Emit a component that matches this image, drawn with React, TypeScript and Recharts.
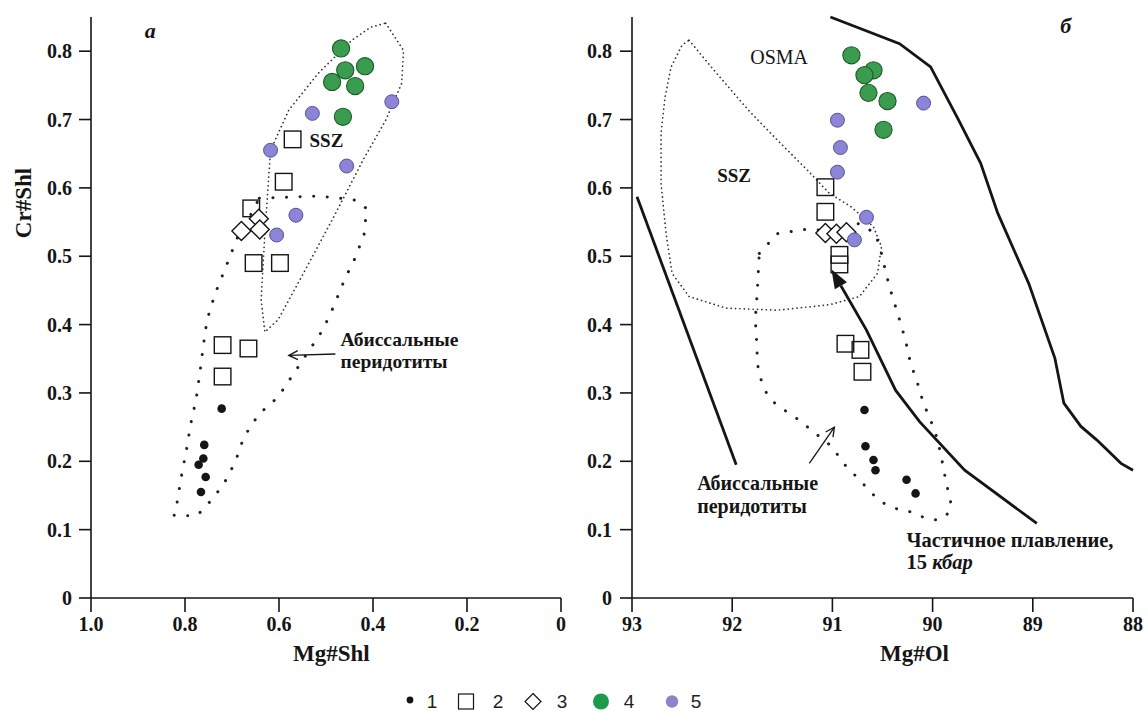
import React from 'react';
import { ScatterChart, Scatter, XAxis, YAxis, ReferenceDot } from 'recharts';

// ---------- Panel а (Cr#Shl vs Mg#Shl) ----------
const aSeries1 = [
  { x: 0.722, y: 0.277 }, { x: 0.759, y: 0.224 }, { x: 0.761, y: 0.204 },
  { x: 0.771, y: 0.195 }, { x: 0.756, y: 0.177 }, { x: 0.766, y: 0.155 },
];
const aSeries2 = [
  { x: 0.571, y: 0.671 }, { x: 0.590, y: 0.609 }, { x: 0.659, y: 0.570 },
  { x: 0.654, y: 0.490 }, { x: 0.598, y: 0.490 }, { x: 0.720, y: 0.370 },
  { x: 0.665, y: 0.365 }, { x: 0.720, y: 0.324 },
];
const aSeries3 = [
  { x: 0.643, y: 0.555 }, { x: 0.680, y: 0.537 }, { x: 0.641, y: 0.539 },
];
const aSeries4 = [
  { x: 0.468, y: 0.804 }, { x: 0.417, y: 0.778 }, { x: 0.459, y: 0.772 },
  { x: 0.487, y: 0.755 }, { x: 0.438, y: 0.749 }, { x: 0.464, y: 0.704 },
];
const aSeries5 = [
  { x: 0.529, y: 0.709 }, { x: 0.360, y: 0.726 }, { x: 0.618, y: 0.655 },
  { x: 0.456, y: 0.632 }, { x: 0.564, y: 0.560 }, { x: 0.605, y: 0.531 },
];
const aSszField = [
  { x: 0.373, y: 0.841 }, { x: 0.335, y: 0.801 }, { x: 0.339, y: 0.753 },
  { x: 0.373, y: 0.699 }, { x: 0.421, y: 0.641 }, { x: 0.484, y: 0.557 },
  { x: 0.548, y: 0.475 }, { x: 0.602, y: 0.407 }, { x: 0.630, y: 0.389 },
  { x: 0.638, y: 0.436 }, { x: 0.630, y: 0.534 }, { x: 0.618, y: 0.655 },
  { x: 0.579, y: 0.714 }, { x: 0.516, y: 0.768 }, { x: 0.445, y: 0.816 },
  { x: 0.405, y: 0.835 }, { x: 0.373, y: 0.841 },
];
const aAbyssalField = [
  { x: 0.642, y: 0.585 }, { x: 0.523, y: 0.588 }, { x: 0.484, y: 0.586 },
  { x: 0.437, y: 0.582 }, { x: 0.414, y: 0.570 }, { x: 0.418, y: 0.534 },
  { x: 0.437, y: 0.499 }, { x: 0.461, y: 0.465 }, { x: 0.484, y: 0.426 },
  { x: 0.507, y: 0.392 }, { x: 0.535, y: 0.363 }, { x: 0.571, y: 0.326 },
  { x: 0.602, y: 0.294 }, { x: 0.644, y: 0.268 }, { x: 0.675, y: 0.235 },
  { x: 0.693, y: 0.199 }, { x: 0.719, y: 0.165 }, { x: 0.754, y: 0.135 },
  { x: 0.774, y: 0.121 }, { x: 0.802, y: 0.120 }, { x: 0.823, y: 0.121 },
  { x: 0.817, y: 0.139 }, { x: 0.808, y: 0.177 }, { x: 0.797, y: 0.216 },
  { x: 0.788, y: 0.254 }, { x: 0.776, y: 0.292 }, { x: 0.768, y: 0.331 },
  { x: 0.761, y: 0.369 }, { x: 0.753, y: 0.407 }, { x: 0.736, y: 0.445 },
  { x: 0.715, y: 0.481 }, { x: 0.695, y: 0.516 }, { x: 0.682, y: 0.538 },
  { x: 0.658, y: 0.563 }, { x: 0.642, y: 0.585 },
];
const aAbyssalArrow = [{ x: 0.480, y: 0.357 }, { x: 0.579, y: 0.355 }];
const aXTicks = [1.0, 0.8, 0.6, 0.4, 0.2, 0];
const yTicks = [0, 0.1, 0.2, 0.3, 0.4, 0.5, 0.6, 0.7, 0.8];

// ---------- Panel б (Cr#Shl vs Mg#Ol) ----------
const bSeries1 = [
  { x: 90.68, y: 0.275 }, { x: 90.67, y: 0.222 }, { x: 90.59, y: 0.202 },
  { x: 90.57, y: 0.187 }, { x: 90.26, y: 0.173 }, { x: 90.17, y: 0.153 },
];
const bSeries2 = [
  { x: 91.07, y: 0.601 }, { x: 91.07, y: 0.565 }, { x: 90.93, y: 0.502 },
  { x: 90.93, y: 0.488 }, { x: 90.87, y: 0.372 }, { x: 90.72, y: 0.363 },
  { x: 90.70, y: 0.331 },
];
const bSeries3 = [
  { x: 91.07, y: 0.534 }, { x: 90.96, y: 0.533 }, { x: 90.86, y: 0.535 },
];
const bSeries4 = [
  { x: 90.81, y: 0.794 }, { x: 90.59, y: 0.772 }, { x: 90.68, y: 0.765 },
  { x: 90.64, y: 0.739 }, { x: 90.45, y: 0.727 }, { x: 90.49, y: 0.685 },
];
const bSeries5 = [
  { x: 90.09, y: 0.724 }, { x: 90.95, y: 0.699 }, { x: 90.92, y: 0.659 },
  { x: 90.95, y: 0.623 }, { x: 90.66, y: 0.557 }, { x: 90.78, y: 0.524 },
];
const bSszField = [
  { x: 92.43, y: 0.816 }, { x: 92.21, y: 0.777 }, { x: 91.84, y: 0.714 },
  { x: 91.55, y: 0.670 }, { x: 91.25, y: 0.626 }, { x: 91.03, y: 0.592 },
  { x: 90.81, y: 0.572 }, { x: 90.59, y: 0.543 }, { x: 90.51, y: 0.514 },
  { x: 90.55, y: 0.475 }, { x: 90.73, y: 0.441 }, { x: 91.03, y: 0.429 },
  { x: 91.55, y: 0.421 }, { x: 92.06, y: 0.424 }, { x: 92.43, y: 0.441 },
  { x: 92.60, y: 0.475 }, { x: 92.66, y: 0.533 }, { x: 92.71, y: 0.607 },
  { x: 92.71, y: 0.680 }, { x: 92.67, y: 0.733 }, { x: 92.61, y: 0.777 },
  { x: 92.50, y: 0.809 }, { x: 92.43, y: 0.816 },
];
const bAbyssalField = [
  { x: 91.73, y: 0.504 }, { x: 91.55, y: 0.533 }, { x: 91.29, y: 0.539 },
  { x: 91.03, y: 0.538 }, { x: 90.73, y: 0.548 }, { x: 90.57, y: 0.533 },
  { x: 90.51, y: 0.504 }, { x: 90.48, y: 0.485 }, { x: 90.43, y: 0.455 },
  { x: 90.38, y: 0.431 }, { x: 90.33, y: 0.407 }, { x: 90.27, y: 0.377 },
  { x: 90.22, y: 0.343 }, { x: 90.16, y: 0.319 }, { x: 90.11, y: 0.294 },
  { x: 90.05, y: 0.270 }, { x: 89.98, y: 0.246 }, { x: 89.92, y: 0.212 },
  { x: 89.87, y: 0.173 }, { x: 89.81, y: 0.134 }, { x: 89.87, y: 0.119 },
  { x: 89.98, y: 0.114 }, { x: 90.11, y: 0.119 }, { x: 90.24, y: 0.127 },
  { x: 90.37, y: 0.131 }, { x: 90.48, y: 0.138 }, { x: 90.59, y: 0.151 },
  { x: 90.68, y: 0.165 }, { x: 90.77, y: 0.179 }, { x: 90.86, y: 0.192 },
  { x: 90.94, y: 0.208 }, { x: 91.01, y: 0.222 }, { x: 91.12, y: 0.235 },
  { x: 91.23, y: 0.248 }, { x: 91.33, y: 0.260 }, { x: 91.43, y: 0.270 },
  { x: 91.55, y: 0.282 }, { x: 91.64, y: 0.294 }, { x: 91.70, y: 0.314 },
  { x: 91.74, y: 0.333 }, { x: 91.75, y: 0.353 }, { x: 91.76, y: 0.387 },
  { x: 91.77, y: 0.407 }, { x: 91.75, y: 0.446 }, { x: 91.74, y: 0.475 },
  { x: 91.73, y: 0.504 },
];
const bLeftCurve = [{ x: 92.95, y: 0.587 }, { x: 91.96, y: 0.195 }];
const bMeltingCurve = [
  { x: 88.96, y: 0.109 }, { x: 89.68, y: 0.187 }, { x: 90.13, y: 0.258 },
  { x: 90.37, y: 0.304 }, { x: 90.66, y: 0.392 }, { x: 91.01, y: 0.481 },
];
const bRightCurve = [
  { x: 91.02, y: 0.850 }, { x: 90.33, y: 0.811 }, { x: 90.02, y: 0.777 },
  { x: 89.74, y: 0.699 }, { x: 89.52, y: 0.636 }, { x: 89.35, y: 0.563 },
  { x: 89.04, y: 0.460 }, { x: 88.78, y: 0.351 }, { x: 88.69, y: 0.285 },
  { x: 88.52, y: 0.251 }, { x: 88.36, y: 0.231 }, { x: 88.12, y: 0.197 },
  { x: 88.00, y: 0.187 },
];
const bAbyssalArrow = [{ x: 91.23, y: 0.197 }, { x: 90.98, y: 0.250 }];
const bXTicks = [93, 92, 91, 90, 89, 88];

const legendLabels = ['1', '2', '3', '4', '5'];

// ---------- styles ----------
const SERIF = "'Liberation Serif', 'Times New Roman', serif";
const INK = '#151515';
const tickStyle = { fontSize: 20, fontWeight: 700, fill: INK, fontFamily: SERIF };
const axisLineStyle = { stroke: INK, strokeWidth: 1.6 };
const annoStyle: React.CSSProperties = { fontSize: 20, fontWeight: 700, fill: INK, fontFamily: SERIF };
const GREEN = '#3a9c4e';
const GREEN_EDGE = '#1f5a2b';
const PURPLE = '#8c84d6';
const PURPLE_EDGE = '#4d4793';

const none = () => <g />;

const dotShape = (p: any) => <circle cx={p.cx} cy={p.cy} r={4.3} fill={INK} />;
const squareShape = (p: any) => (
  <rect x={p.cx - 8.3} y={p.cy - 8.3} width={16.6} height={16.6} fill="none" stroke={INK} strokeWidth={1.4} />
);
const diamondShape = (p: any) => (
  <polygon
    points={`${p.cx},${p.cy - 9.5} ${p.cx + 9.5},${p.cy} ${p.cx},${p.cy + 9.5} ${p.cx - 9.5},${p.cy}`}
    fill="#fff" stroke={INK} strokeWidth={1.4}
  />
);
const greenShape = (p: any) => (
  <circle cx={p.cx} cy={p.cy} r={8.6} fill={GREEN} stroke={GREEN_EDGE} strokeWidth={1.1} />
);
const purpleShape = (p: any) => (
  <circle cx={p.cx} cy={p.cy} r={7} fill={PURPLE} stroke={PURPLE_EDGE} strokeWidth={0.9} />
);

const fineDots = { stroke: '#333', strokeWidth: 1.7, strokeDasharray: '0.1 4.3', strokeLinecap: 'round' as const, fill: 'none' };
const sparseDots = { stroke: '#222', strokeWidth: 3, strokeDasharray: '0.1 13.5', strokeLinecap: 'round' as const, fill: 'none' };
const solidLine = { stroke: INK, strokeWidth: 2.8, fill: 'none' };

const arrowLine = (width: number, filled: boolean, len: number, half: number) => (props: any) => {
  const pts: { x: number; y: number }[] = props.points || [];
  if (pts.length < 2) return <g />;
  const a = pts[pts.length - 2];
  const b = pts[pts.length - 1];
  const ang = Math.atan2(b.y - a.y, b.x - a.x);
  const ux = Math.cos(ang);
  const uy = Math.sin(ang);
  const bx = b.x - ux * len;
  const by = b.y - uy * len;
  const px = -uy * half;
  const py = ux * half;
  const body = filled ? [...pts.slice(0, -1), { x: bx, y: by }] : pts;
  const d = body.map((p, i) => `${i === 0 ? 'M' : 'L'}${p.x},${p.y}`).join(' ');
  return (
    <g>
      <path d={d} fill="none" stroke={INK} strokeWidth={width} />
      {filled ? (
        <polygon points={`${b.x},${b.y} ${bx + px},${by + py} ${bx - px},${by - py}`} fill={INK} />
      ) : (
        <path d={`M${bx + px},${by + py} L${b.x},${b.y} L${bx - px},${by - py}`} fill="none" stroke={INK} strokeWidth={width} />
      )}
    </g>
  );
};

const textAt = (content: React.ReactNode, style: React.CSSProperties, anchor: string = 'start') => (p: any) => (
  <text x={p.cx} y={p.cy} textAnchor={anchor} style={style}>{content}</text>
);

const fmt = (v: number) => (v === 0 ? '0' : v.toFixed(1));

function PanelA() {
  return (
    <ScatterChart width={580} height={680} margin={{ top: 17, right: 19, bottom: 0, left: 0 }}>
      <XAxis
        type="number" dataKey="x" domain={[0, 1]} reversed ticks={aXTicks} tickFormatter={fmt}
        height={82} tickSize={14} tickMargin={5} tick={tickStyle} axisLine={axisLineStyle} tickLine={axisLineStyle}
        interval={0}
        label={{
          content: () => (
            <text x={293} y={661} style={{ fontSize: 23, fontWeight: 700, fill: INK, fontFamily: SERIF }}>Mg#Shl</text>
          ),
        }}
      />
      <YAxis
        type="number" dataKey="y" domain={[0, 0.85]} ticks={yTicks} tickFormatter={fmt}
        width={91} tickSize={12} tickMargin={7} tick={tickStyle} axisLine={axisLineStyle} tickLine={axisLineStyle}
        interval={0}
        label={{
          content: () => (
            <text transform="translate(23,203) rotate(-90)" textAnchor="middle" dominantBaseline="central"
              style={{ fontSize: 23, fontWeight: 700, fill: INK, fontFamily: SERIF }}>Cr#Shl</text>
          ),
        }}
      />
      <Scatter data={aSszField} line={fineDots} lineType="joint" shape={none} isAnimationActive={false} />
      <Scatter data={aAbyssalField} line={sparseDots} lineType="joint" shape={none} isAnimationActive={false} />
      <Scatter data={aAbyssalArrow} line={arrowLine(1.4, false, 9, 4.5)} lineType="joint" shape={none} isAnimationActive={false} />
      <Scatter data={aSeries1} shape={dotShape} isAnimationActive={false} />
      <Scatter data={aSeries2} shape={squareShape} isAnimationActive={false} />
      <Scatter data={aSeries3} shape={diamondShape} isAnimationActive={false} />
      <Scatter data={aSeries4} shape={greenShape} isAnimationActive={false} />
      <Scatter data={aSeries5} shape={purpleShape} isAnimationActive={false} />
      <ReferenceDot x={0.535} y={0.660} r={0} shape={textAt('SSZ', { ...annoStyle, fontSize: 19 })} />
      <ReferenceDot x={0.469} y={0.369} r={0} shape={textAt('Абиссальные', { ...annoStyle, fontSize: 19.5 })} />
      <ReferenceDot x={0.469} y={0.336} r={0} shape={textAt('перидотиты', { ...annoStyle, fontSize: 19.5 })} />
      <ReferenceDot x={0.874} y={0.820} r={0}
        shape={textAt('а', { ...annoStyle, fontSize: 22, fontStyle: 'italic' }, 'middle')} />
    </ScatterChart>
  );
}

function PanelB() {
  return (
    <ScatterChart width={588} height={680} margin={{ top: 17, right: 15, bottom: 0, left: 0 }}>
      <XAxis
        type="number" dataKey="x" domain={[88, 93]} reversed ticks={bXTicks}
        height={82} tickSize={14} tickMargin={5} tick={tickStyle} axisLine={axisLineStyle} tickLine={axisLineStyle}
        interval={0}
        label={{
          content: () => (
            <text x={320} y={661} style={{ fontSize: 23, fontWeight: 700, fill: INK, fontFamily: SERIF }}>Mg#Ol</text>
          ),
        }}
      />
      <YAxis
        type="number" dataKey="y" domain={[0, 0.85]} ticks={yTicks} tickFormatter={fmt}
        width={72} tickSize={12} tickMargin={8} tick={tickStyle} axisLine={axisLineStyle} tickLine={axisLineStyle}
        interval={0}
      />
      <Scatter data={bSszField} line={fineDots} lineType="joint" shape={none} isAnimationActive={false} />
      <Scatter data={bAbyssalField} line={sparseDots} lineType="joint" shape={none} isAnimationActive={false} />
      <Scatter data={bLeftCurve} line={solidLine} lineType="joint" shape={none} isAnimationActive={false} />
      <Scatter data={bRightCurve} line={solidLine} lineType="joint" shape={none} isAnimationActive={false} />
      <Scatter data={bMeltingCurve} line={arrowLine(2.8, true, 19, 7)} lineType="joint" shape={none} isAnimationActive={false} />
      <Scatter data={bAbyssalArrow} line={arrowLine(1.3, false, 9, 4.5)} lineType="joint" shape={none} isAnimationActive={false} />
      <Scatter data={bSeries1} shape={dotShape} isAnimationActive={false} />
      <Scatter data={bSeries2} shape={squareShape} isAnimationActive={false} />
      <Scatter data={bSeries3} shape={diamondShape} isAnimationActive={false} />
      <Scatter data={bSeries4} shape={greenShape} isAnimationActive={false} />
      <Scatter data={bSeries5} shape={purpleShape} isAnimationActive={false} />
      <ReferenceDot x={91.82} y={0.781} r={0} shape={textAt('OSMA', { ...annoStyle, fontWeight: 400 })} />
      <ReferenceDot x={92.15} y={0.608} r={0} shape={textAt('SSZ', { ...annoStyle, fontSize: 19 })} />
      <ReferenceDot x={92.35} y={0.158} r={0} shape={textAt('Абиссальные', annoStyle)} />
      <ReferenceDot x={92.35} y={0.124} r={0} shape={textAt('перидотиты', annoStyle)} />
      <ReferenceDot x={90.26} y={0.075} r={0} shape={textAt('Частичное плавление,', { ...annoStyle, fontSize: 20.5 })} />
      <ReferenceDot x={90.26} y={0.042} r={0}
        shape={textAt(<>15 <tspan fontStyle="italic">кбар</tspan></>, { ...annoStyle, fontSize: 20.5 })} />
      <ReferenceDot x={88.67} y={0.826} r={0}
        shape={textAt('б', { ...annoStyle, fontSize: 22, fontStyle: 'italic' }, 'middle')} />
    </ScatterChart>
  );
}

function Legend() {
  const sans = "'Liberation Sans', Arial, sans-serif";
  const cy = 701.5;
  const symbolX = [410, 466, 533, 601, 672];
  const labelX = [432, 498, 562, 629, 696];
  const symbols = [
    <circle key="s1" cx={symbolX[0]} cy={cy - 1.5} r={3.4} fill={INK} />,
    <rect key="s2" x={symbolX[1] - 7.5} y={cy - 7.5} width={15} height={15} fill="none" stroke={INK} strokeWidth={1.2} />,
    <polygon key="s3"
      points={`${symbolX[2]},${cy - 8} ${symbolX[2] + 8},${cy} ${symbolX[2]},${cy + 8} ${symbolX[2] - 8},${cy}`}
      fill="none" stroke={INK} strokeWidth={1.2} />,
    <circle key="s4" cx={symbolX[3]} cy={cy} r={8} fill="#1b9a49" />,
    <circle key="s5" cx={symbolX[4]} cy={cy} r={6.2} fill="#8a85cc" />,
  ];
  return (
    <svg width={1148} height={711} style={{ position: 'absolute', left: 0, top: 0, pointerEvents: 'none' }}>
      {symbols}
      {legendLabels.map((t, i) => (
        <text key={t} x={labelX[i]} y={cy + 6.5} textAnchor="middle"
          style={{ fontSize: 19, fill: '#222', fontFamily: sans }}>{t}</text>
      ))}
    </svg>
  );
}

export default function App() {
  return (
    <div style={{ position: 'absolute', left: 0, top: 0, width: 1148, height: 711, background: '#fff', overflow: 'hidden' }}>
      <div style={{ position: 'absolute', left: 0, top: 0 }}>
        <PanelA />
      </div>
      <div style={{ position: 'absolute', left: 560, top: 0 }}>
        <PanelB />
      </div>
      <Legend />
    </div>
  );
}
